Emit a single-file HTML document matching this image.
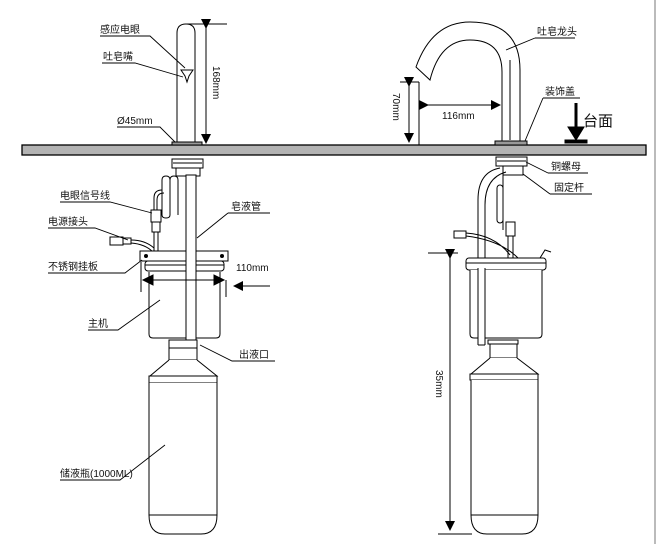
<!DOCTYPE html>
<html><head><meta charset="utf-8"><style>
html,body{margin:0;padding:0;background:#fff;}
svg{display:block;}
text{font-family:"Liberation Sans","Noto Sans CJK SC",sans-serif;font-size:10px;fill:#111;}
</style></head><body>
<svg width="657" height="544" viewBox="0 0 657 544" xmlns="http://www.w3.org/2000/svg">
<defs>
<marker id="ar" markerWidth="10" markerHeight="10" refX="9" refY="5" orient="auto" markerUnits="userSpaceOnUse"><path d="M0,0 L10,5 L0,10 Z" fill="#000"/></marker>
<marker id="big" markerWidth="16" markerHeight="16" refX="10" refY="8" orient="auto" markerUnits="userSpaceOnUse"><path d="M0,0 L12,8 L0,16 Z" fill="#000"/></marker>
</defs>
<line x1="655" y1="0" x2="655" y2="544" stroke="#bbb" stroke-width="2"/>
<g stroke="#000" stroke-width="1" fill="none">
<!-- countertop -->
<rect x="22" y="145" width="624" height="10" fill="#b3b3b3" stroke-width="1.3"/>

<!-- LEFT faucet -->
<path d="M177,145 V33 Q177,24 186,24 Q195,24 195,33 V145" fill="#fff"/>
<path d="M181,70 L193,70 L189,76 L187,82 L185,76 Z" fill="#fff"/>
<rect x="172" y="142" width="30" height="3" fill="#999"/>
<line x1="187" y1="24" x2="227" y2="24"/>
<line x1="206" y1="28" x2="206" y2="143" marker-start="url(#ar)" marker-end="url(#ar)"/>
<!-- under counter -->
<rect x="172" y="159" width="31" height="9" fill="#fff"/>
<line x1="173" y1="163" x2="202" y2="163"/>
<rect x="176" y="168" width="24" height="8" fill="#fff"/>
<rect x="186" y="175" width="10" height="168" fill="#fff"/>
<path d="M162,215 V180 Q162,176 166,176 Q170,176 170,180 V215 Q170,218 166,218 Q162,218 162,215Z" fill="#fff"/>
<path d="M170,215 V180 Q170,176 174,176 Q178,176 178,180 V215" fill="#fff"/>
<path d="M157,210 V200 Q157,193 164,193 M154,210 V198 Q154,190 162,190"/>
<rect x="151" y="210" width="10" height="12" fill="#fff"/>
<rect x="152" y="222" width="8" height="10" fill="#fff"/>
<line x1="154" y1="232" x2="154" y2="252"/><line x1="158" y1="232" x2="158" y2="252"/>
<rect x="110" y="237" width="13" height="8" fill="#fff"/>
<rect x="123" y="238" width="8" height="6" fill="#fff"/>
<path d="M131,240 Q145,240 154,248 M131,243 Q145,244 153,252"/>
<rect x="140" y="251" width="88" height="10" fill="#fff"/>
<circle cx="146" cy="256" r="1.5" fill="#000"/><circle cx="222" cy="256" r="1.5" fill="#000"/>
<rect x="145" y="261" width="79" height="10" rx="3" fill="#fff"/>
<line x1="145" y1="265" x2="224" y2="265"/>
<path d="M149,272 V334 Q149,338 153,338 H216 Q220,338 220,334 V272" fill="#fff"/>
<rect x="186" y="250" width="10" height="96" fill="#fff" stroke="none"/>
<line x1="186" y1="245" x2="186" y2="344"/><line x1="196" y1="245" x2="196" y2="344"/>
<line x1="186" y1="344" x2="196" y2="344"/>
<line x1="141" y1="262" x2="141" y2="292"/><line x1="226" y1="280" x2="226" y2="297"/>
<line x1="150" y1="280" x2="218" y2="280"/>
<path d="M143,280 L153,275 L153,285 Z" fill="#000"/>
<path d="M224,280 L214,275 L214,285 Z" fill="#000"/>
<line x1="270" y1="286" x2="234" y2="286" marker-end="url(#ar)"/>
<!-- bottle left -->
<rect x="169" y="340" width="28" height="8" fill="#fff"/>
<rect x="169" y="348" width="28" height="12" fill="#fff"/>
<path d="M169,360 L150,376 H217 L197,360" fill="#fff"/>
<rect x="149" y="376" width="68" height="7" fill="#fff"/>
<path d="M149,383 V515 H217 V383" fill="#fff"/>
<path d="M149,515 Q149,534 165,534 H201 Q217,534 217,515"/>

<!-- RIGHT faucet -->
<path d="M520,145 V70 Q520,22 470,22 Q432,22 416,67 L430,80 Q440,40 470,40 Q502,40 502,72 V145" fill="#fff"/>
<line x1="510" y1="60" x2="510" y2="140"/>
<rect x="495" y="141" width="32" height="4" fill="#999"/>
<line x1="419" y1="82" x2="419" y2="145"/>
<line x1="400" y1="82" x2="419" y2="82"/>
<line x1="409" y1="86" x2="409" y2="142" marker-start="url(#ar)" marker-end="url(#ar)"/>
<line x1="428" y1="105" x2="500" y2="105" marker-start="url(#ar)" marker-end="url(#ar)"/>
<line x1="576" y1="103" x2="576" y2="132" stroke-width="3"/>
<path d="M568,127 L584,127 L576,140 Z" fill="#000"/>
<rect x="565" y="140" width="22" height="3" fill="#000"/>
<!-- under right -->
<rect x="496" y="157" width="31" height="9" fill="#fff"/>
<line x1="497" y1="161" x2="526" y2="161"/>
<rect x="503" y="166" width="20" height="9" fill="#fff"/>
<path d="M500,168 Q478,172 478,200 V345 M506,172 Q485,178 485,205 V345 M478,345 H485"/>
<rect x="497" y="185" width="6" height="38" rx="3" fill="#fff"/>
<line x1="503" y1="175" x2="503" y2="230"/>
<rect x="506" y="222" width="9" height="14" fill="#fff"/>
<line x1="508" y1="236" x2="508" y2="258"/><line x1="513" y1="236" x2="513" y2="258"/>
<rect x="454" y="231" width="12" height="7" fill="#fff"/>
<path d="M466,233 Q495,235 510,255 M466,236 Q500,240 518,258"/>
<path d="M540,258 L545,250 L551,252"/>
<rect x="466" y="258" width="80" height="12" rx="3" fill="#fff"/>
<line x1="466" y1="263" x2="546" y2="263"/>
<path d="M470,270 V334 Q470,338 474,338 H538 Q542,338 542,334 V270" fill="#fff"/>
<rect x="478" y="268" width="7" height="76" fill="#fff" stroke="none"/>
<line x1="478" y1="268" x2="478" y2="345"/><line x1="485" y1="268" x2="485" y2="345"/>
<rect x="488" y="340" width="30" height="4" fill="#fff"/>
<rect x="490" y="344" width="27" height="14" fill="#fff"/>
<path d="M490,358 L471,374 H538 L517,358" fill="#fff"/>
<rect x="470" y="374" width="68" height="6" fill="#fff"/>
<path d="M471,380 V515 H538 V380" fill="#fff"/>
<path d="M471,515 Q471,534 487,534 H522 Q538,534 538,515"/>
<line x1="428" y1="253" x2="458" y2="253"/>
<line x1="438" y1="534" x2="472" y2="534"/>
<line x1="450" y1="258" x2="450" y2="530" marker-start="url(#ar)" marker-end="url(#ar)"/>

<!-- leader lines -->
<g stroke-width="0.9">
<path d="M100,36 H150 L185,68"/>
<path d="M102,63 H135 L183,77"/>
<path d="M117,127 H160 L175,142"/>
<path d="M60,202 H110 L152,213"/>
<path d="M228,213 H270 M228,213 L197,238"/>
<path d="M48,228 H95 L128,240"/>
<path d="M48,273 H125 L142,260"/>
<path d="M88,330 H118 L160,300"/>
<path d="M237,361 H232 L200,345 M237,361 H275"/>
<path d="M60,480 H120 L165,445"/>
<path d="M535,38 H575 M535,38 L506,50"/>
<path d="M543,98 H580 M543,98 L525,141"/>
<path d="M548,173 H588 M548,173 L526,162"/>
<path d="M550,194 H592 M550,194 L523,174"/>
</g>
</g>
<!-- text -->
<text x="100" y="33">感应电眼</text>
<text x="103" y="60">吐皂嘴</text>
<text x="117" y="124">Ø45mm</text>
<text x="0" y="0" transform="translate(213,66) rotate(90)">168mm</text>
<text x="60" y="199">电眼信号线</text>
<text x="231" y="210">皂液管</text>
<text x="48" y="225">电源接头</text>
<text x="48" y="270">不锈钢挂板</text>
<text x="236" y="271">110mm</text>
<text x="88" y="327">主机</text>
<text x="239" y="358">出液口</text>
<text x="60" y="477">储液瓶(1000ML)</text>
<text x="537" y="35">吐皂龙头</text>
<text x="545" y="95">装饰盖</text>
<text x="583" y="126" style="font-size:15px">台面</text>
<text x="442" y="119">116mm</text>
<text x="0" y="0" transform="translate(393,93) rotate(90)">70mm</text>
<text x="551" y="170">铜螺母</text>
<text x="554" y="191">固定杆</text>
<text x="0" y="0" transform="translate(436,370) rotate(90)">35mm</text>
</svg>
</body></html>
